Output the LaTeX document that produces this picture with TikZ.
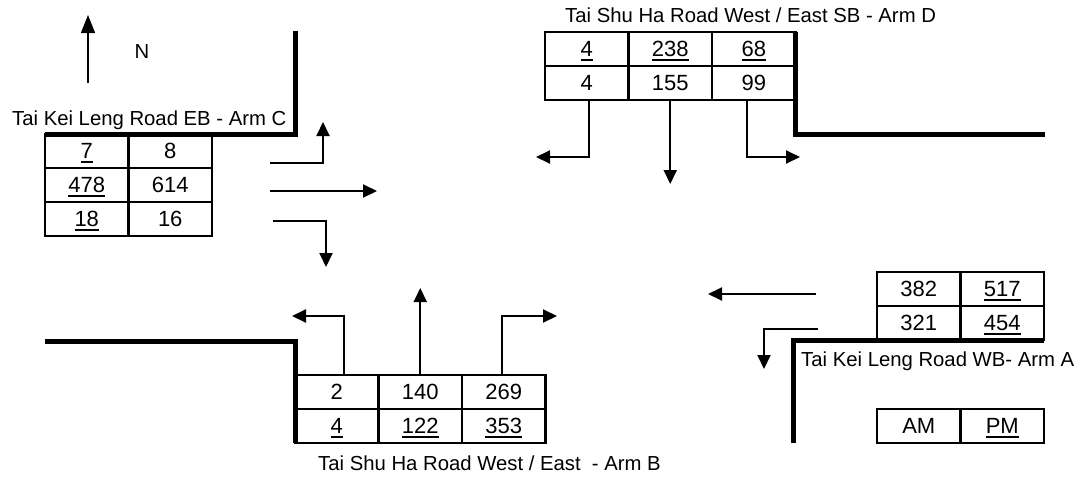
\documentclass[tikz,border=0pt]{standalone}
\usepackage{fontspec}
\setmainfont{Liberation Sans}
\usetikzlibrary{arrows.meta,positioning}

\newcommand{\ulnum}[1]{\setbox0\hbox{#1}\rlap{\smash{\rule[-4.5pt]{\wd0}{2.3pt}}}\box0}

\begin{document}
\begin{tikzpicture}[
  x=1pt, y=-1pt,
  font=\fontsize{20.3}{24}\selectfont, node distance=0pt,
  cell/.style={draw, rectangle, line width=2.7pt, inner sep=0pt, outer sep=0pt, minimum width=83.5pt, minimum height=34pt, font=\fontsize{22}{26}\selectfont},
  kerb/.style={line width=5pt},
  arr/.style={-{Triangle[length=14pt, width=13pt]}, line width=2pt},
  lbl/.style={anchor=base west, inner sep=0pt}
]
  \useasboundingbox (0,0) rectangle (1084,477);

  % north point
  \coordinate (nS) at (88,83);
  \coordinate (nE) at (88,15);
  \draw[-{Triangle[length=18pt, width=14pt]}, line width=1.5pt] (nS) -- (nE);
  \node (north) at (142,52) {N};

  % Arm C
  \node[lbl] (armC) at (12,125) {Tai Kei Leng Road EB - Arm C};
  \node[cell, anchor=north west] (c11) at (45,134) {\ulnum{7}};
  \node[cell, right=of c11] (c12) {8};
  \node[cell, below=of c11] (c21) {\ulnum{478}};
  \node[cell, right=of c21] (c22) {614};
  \node[cell, below=of c21] (c31) {\ulnum{18}};
  \node[cell, right=of c31] (c32) {16};
  \draw[kerb] (c11.north west) -- (295,134) -- (295,31);

  \coordinate (cLs) at (270,163);
  \coordinate (cLe) at (323,122);
  \coordinate (cTs) at (270,191);
  \coordinate (cTe) at (377,191);
  \coordinate (cRs) at (273,221);
  \coordinate (cRe) at (326,267);
  \draw[arr] (cLs) -| (cLe);
  \draw[arr] (cTs) -- (cTe);
  \draw[arr] (cRs) -| (cRe);

  % Arm D
  \node[lbl] (armD) at (565,22) {Tai Shu Ha Road West / East SB - Arm D};
  \node[cell, anchor=north west] (d11) at (545,32) {\ulnum{4}};
  \node[cell, right=of d11] (d12) {\ulnum{238}};
  \node[cell, right=of d12] (d13) {\ulnum{68}};
  \node[cell, below=of d11] (d21) {4};
  \node[cell, right=of d21] (d22) {155};
  \node[cell, right=of d22] (d23) {99};
  \draw[kerb] (d13.north east) |- (1045,134);

  \coordinate (dL) at (536,157);
  \coordinate (dT) at (670,184);
  \coordinate (dR) at (800,157);
  \draw[arr] ([xshift=2pt]d21.south) |- (dL);
  \draw[arr] (d22.south) -- (d22.south |- dT);
  \draw[arr] ([xshift=-7pt]d23.south) |- (dR);

  % Arm B
  \node[cell, anchor=north west] (b11) at (295,375) {2};
  \node[cell, right=of b11] (b12) {140};
  \node[cell, right=of b12] (b13) {269};
  \node[cell, below=of b11] (b21) {\ulnum{4}};
  \node[cell, right=of b21] (b22) {\ulnum{122}};
  \node[cell, right=of b22] (b23) {\ulnum{353}};
  \node[lbl] (armB) at (318,470) {Tai Shu Ha Road West / East\ \ - Arm B};
  \draw[kerb] (45,341) -| (b21.south west);

  \coordinate (bL) at (292,316);
  \coordinate (bT) at (421,288);
  \coordinate (bR) at (557,316);
  \draw[arr] ([xshift=7pt]b11.north) |- (bL);
  \draw[arr] (b12.north) -- (b12.north |- bT);
  \draw[arr] ([xshift=-2pt]b13.north) |- (bR);

  % Arm A
  \node[cell, anchor=north west] (a11) at (877,272) {382};
  \node[cell, right=of a11] (a12) {\ulnum{517}};
  \node[cell, below=of a11] (a21) {321};
  \node[cell, right=of a21] (a22) {\ulnum{454}};
  \node[lbl] (armA) at (801,366) {Tai Kei Leng Road WB- Arm A};
  \draw[kerb] (a22.south east) -| (793,443);

  \coordinate (aTs) at (816,294);
  \coordinate (aTe) at (708,294);
  \coordinate (aRs) at (818,329);
  \coordinate (aRe) at (764,369);
  \draw[arr] (aTs) -- (aTe);
  \draw[arr] (aRs) -| (aRe);

  % key
  \node[cell, anchor=north west] (am) at (877,409) {AM};
  \node[cell, right=of am] (pm) {\ulnum{PM}};
\end{tikzpicture}
\end{document}
